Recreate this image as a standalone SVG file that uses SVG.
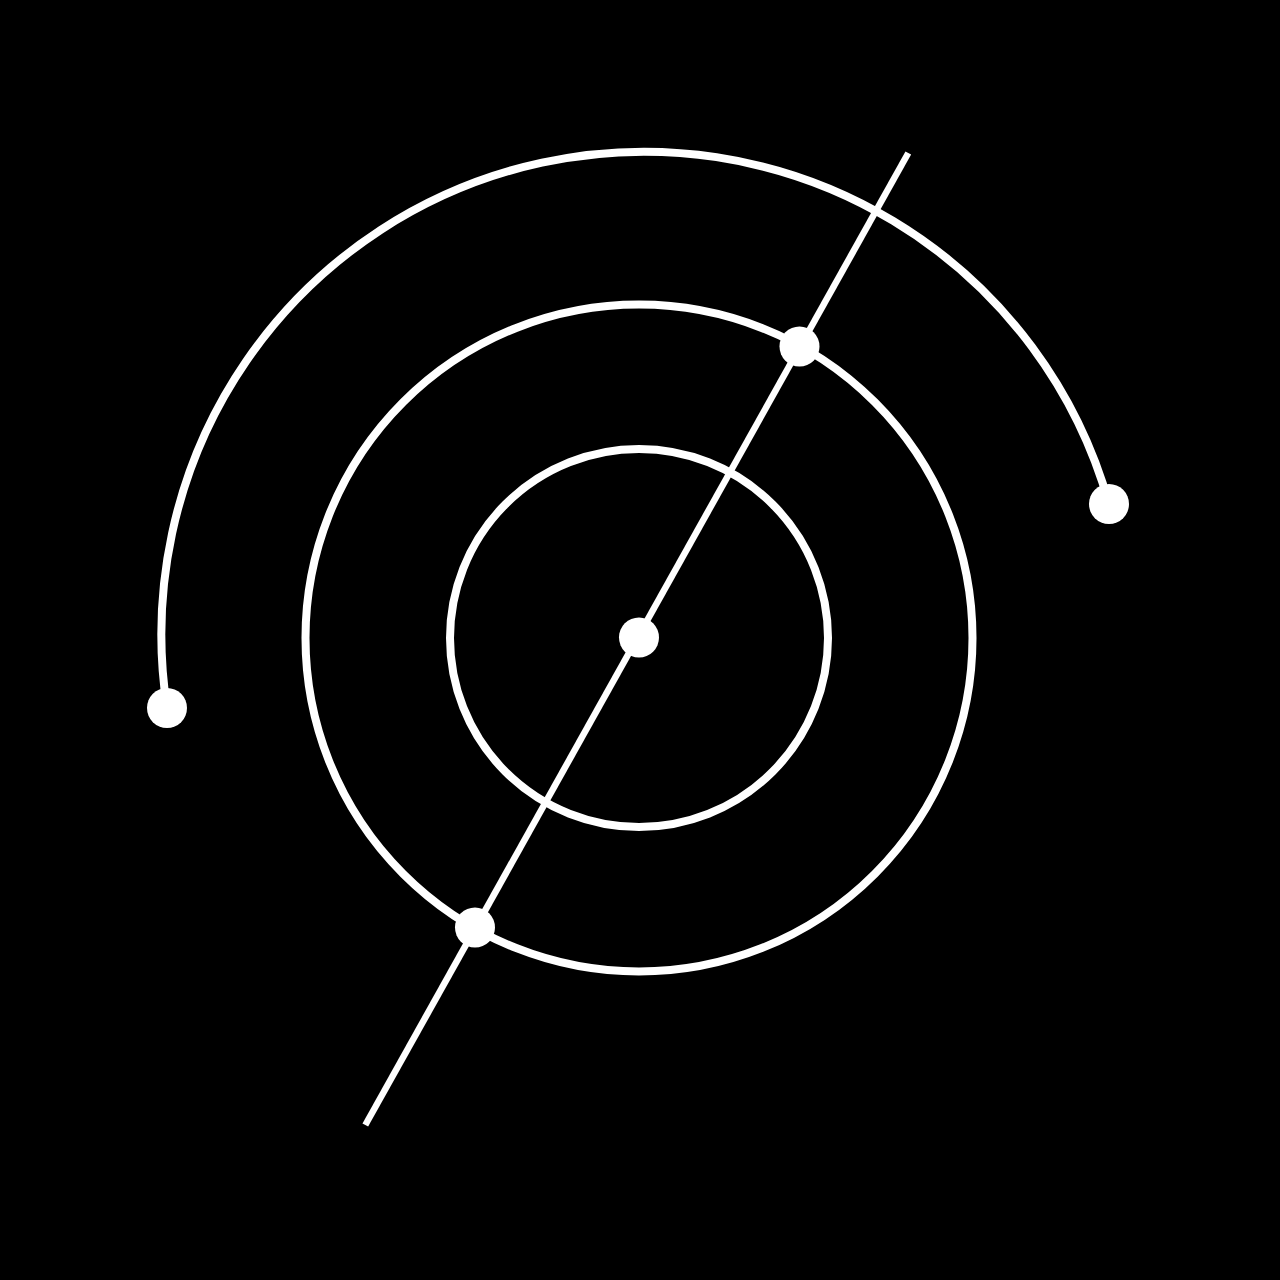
<svg xmlns="http://www.w3.org/2000/svg" width="1280" height="1280" viewBox="0 0 1280 1280">
  <style>
    .ring { fill: none; stroke: #ffffff; stroke-width: 8; }
    .axis { fill: none; stroke: #ffffff; stroke-width: 6.5; stroke-linecap: butt; }
    .dot { fill: #ffffff; }
  </style>
  <rect x="0" y="0" width="1280" height="1280" fill="#000000"/>
  <g id="connectors">
    <path id="outer-arc" class="ring" d="M 167 708 A 482.8 482.8 0 0 1 1109 504"/>
    <circle id="middle-ring" class="ring" cx="639" cy="638" r="333.5"/>
    <circle id="inner-ring" class="ring" cx="639" cy="638" r="189"/>
    <line id="axis" class="axis" x1="365.3" y1="1125" x2="908.3" y2="153"/>
  </g>
  <g id="node-center"><circle class="dot" cx="639" cy="637.5" r="20"/></g>
  <g id="node-upper"><circle class="dot" cx="799.5" cy="346.5" r="20"/></g>
  <g id="node-lower"><circle class="dot" cx="475" cy="927.5" r="20"/></g>
  <g id="node-arc-right"><circle class="dot" cx="1109" cy="504" r="20"/></g>
  <g id="node-arc-left"><circle class="dot" cx="167" cy="708" r="20"/></g>
</svg>
